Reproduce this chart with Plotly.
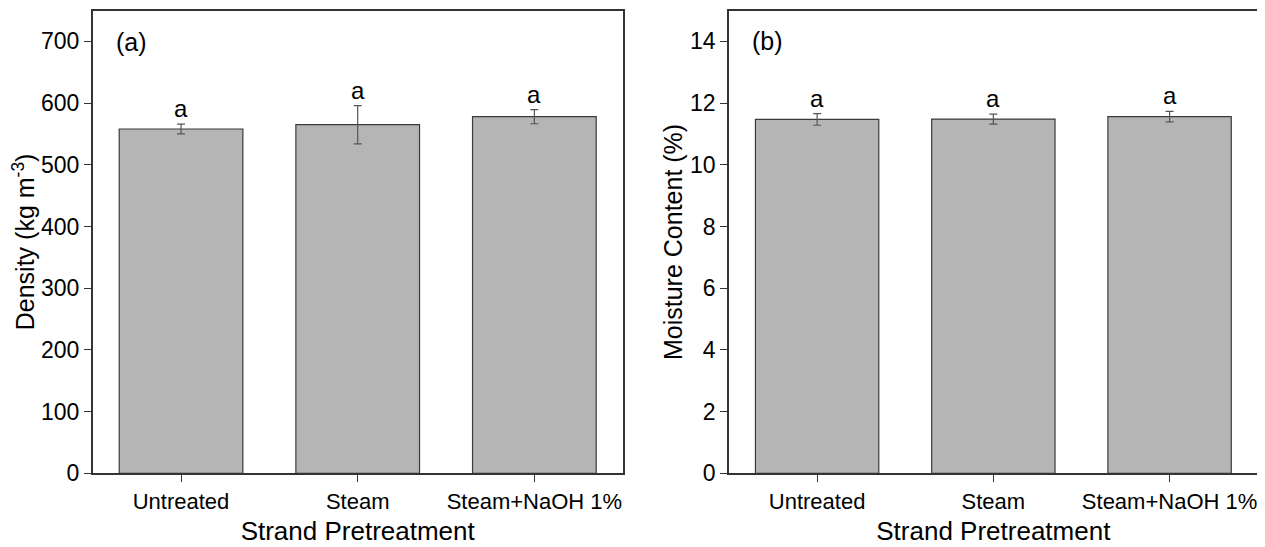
import plotly.graph_objects as go

categories = ["Untreated", "Steam", "Steam+NaOH 1%"]
density = [558, 565, 578]
density_err = [8, 31, 11.5]
moisture = [11.47, 11.48, 11.56]
moisture_err = [0.19, 0.16, 0.17]
letters_a = ["a", "a", "a"]
density_ticks = [0, 100, 200, 300, 400, 500, 600, 700]
moisture_ticks = [0, 2, 4, 6, 8, 10, 12, 14]

FONT = "Arial, 'Liberation Sans', sans-serif"
BAR_FILL = "#b5b5b5"
LINE = "#333333"

W, H = 1257, 539  # page has an 8px body margin


def px(xp):
    return (xp - 8) / W


def py(yp):
    return 1 - (yp - 8) / H


fig = go.Figure()

fig.add_trace(go.Bar(
    x=categories, y=density, width=0.7,
    marker=dict(color=BAR_FILL, line=dict(color="#3a3a3a", width=1.2)),
    error_y=dict(type="data", array=density_err, color="#555555", thickness=1.2, width=4),
    xaxis="x", yaxis="y", showlegend=False,
))
fig.add_trace(go.Bar(
    x=categories, y=moisture, width=0.7,
    marker=dict(color=BAR_FILL, line=dict(color="#3a3a3a", width=1.2)),
    error_y=dict(type="data", array=moisture_err, color="#555555", thickness=1.2, width=4),
    xaxis="x2", yaxis="y2", showlegend=False,
))

annotations = []
for c, v, e, t in zip(categories, density, density_err, letters_a):
    annotations.append(dict(x=c, y=v + e, xref="x", yref="y", text=t, showarrow=False,
                            yanchor="bottom", yshift=0, font=dict(size=24, color="black", family=FONT)))
for c, v, e, t in zip(categories, moisture, moisture_err, letters_a):
    annotations.append(dict(x=c, y=v + e, xref="x2", yref="y2", text=t, showarrow=False,
                            yanchor="bottom", yshift=0, font=dict(size=24, color="black", family=FONT)))
annotations.append(dict(x=px(114), y=py(41.5), xref="paper", yref="paper", text="(a)",
                        showarrow=False, xanchor="left", yanchor="middle",
                        font=dict(size=25, color="black", family=FONT)))
annotations.append(dict(x=px(750), y=py(41), xref="paper", yref="paper", text="(b)",
                        showarrow=False, xanchor="left", yanchor="middle",
                        font=dict(size=25, color="black", family=FONT)))

xcommon = dict(
    type="category", range=[-0.5, 2.5], showline=True, linecolor=LINE, linewidth=1.6,
    mirror=True, ticks="outside", ticklen=7, tickwidth=1.2, tickcolor=LINE,
    tickfont=dict(size=22, color="black", family=FONT), showgrid=False, zeroline=False,
    automargin=False,
)
ycommon = dict(
    showline=True, linecolor=LINE, linewidth=1.6, mirror=True, ticks="outside",
    ticklen=7, tickwidth=1.2, tickcolor=LINE,
    tickfont=dict(size=23, color="black", family=FONT), showgrid=False, zeroline=False,
    automargin=False,
)

ydom = [py(473.3), py(10.5)]

fig.update_layout(
    width=W, height=H,
    margin=dict(l=0, r=0, t=0, b=0),
    plot_bgcolor="white", paper_bgcolor="white",
    font=dict(family=FONT, color="black"),
    xaxis=dict(**xcommon, domain=[px(92.7), px(622.7)], anchor="y",
               title=dict(text="Strand Pretreatment", font=dict(size=26, family=FONT), standoff=9)),
    yaxis=dict(**ycommon, domain=ydom, anchor="x", range=[0, 750],
               tickvals=density_ticks, ticktext=[str(t) for t in density_ticks],
               title=dict(text="Density (kg m<sup>-3</sup>)", font=dict(size=25, family=FONT), standoff=0)),
    xaxis2=dict(**xcommon, domain=[px(729), px(1257.7)], anchor="y2",
                title=dict(text="Strand Pretreatment", font=dict(size=26, family=FONT), standoff=9)),
    yaxis2=dict(**ycommon, domain=ydom, anchor="x2", range=[0, 15],
                tickvals=moisture_ticks, ticktext=[str(t) for t in moisture_ticks],
                title=dict(text="Moisture Content (%)", font=dict(size=25, family=FONT), standoff=0)),
    annotations=annotations,
)

fig.write_html("out.html")
